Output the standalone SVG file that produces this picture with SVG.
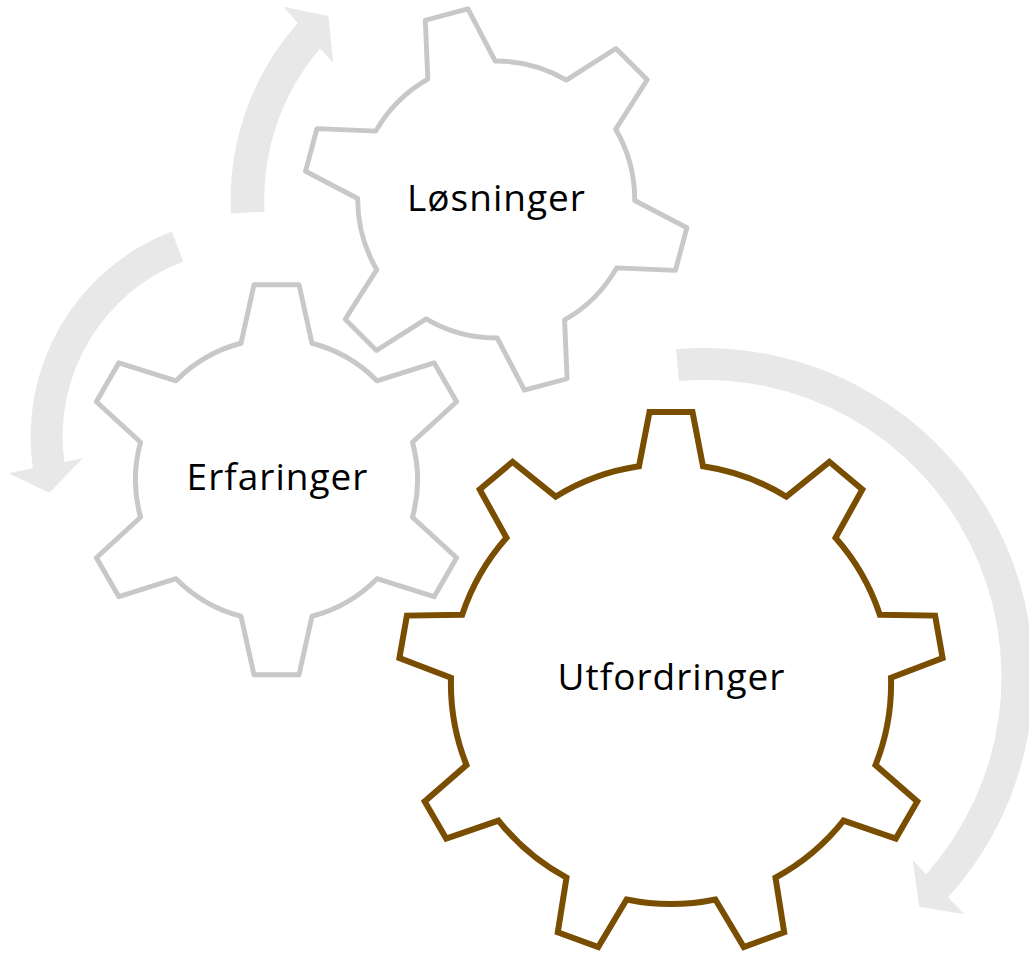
<svg xmlns="http://www.w3.org/2000/svg" xmlns:xlink="http://www.w3.org/1999/xlink" width="1029" height="954" viewBox="0 0 1029 954">
  <style>
    .arrow { fill: #E8E8E8; stroke: none; }
    .gear-small { fill: #FFFFFF; stroke: #C8C8C8; stroke-width: 5; stroke-linejoin: round; }
    .gear-big { fill: #FFFFFF; stroke: #7A4E00; stroke-width: 6; stroke-linejoin: miter; }
    .label { font-family: "Open Sans", "Noto Sans", "DejaVu Sans", sans-serif; font-size: 37px; letter-spacing: 1px; fill: #000000; text-anchor: middle; }
  </style>
  <defs>
    <!-- six-tooth gear outline centred on the origin -->
    <path id="gear6" d="M -35.5,-136.5 L -22.5,-195 L 22.5,-195 L 35.5,-136.5 A 141 141 0 0 1 100.46,-98.99 L 157.62,-116.99 L 180.12,-78.01 L 135.96,-37.51 A 141 141 0 0 1 135.96,37.51 L 180.12,78.01 L 157.62,116.99 L 100.46,98.99 A 141 141 0 0 1 35.5,136.5 L 22.5,195 L -22.5,195 L -35.5,136.5 A 141 141 0 0 1 -100.46,98.99 L -157.62,116.99 L -180.12,78.01 L -135.96,37.51 A 141 141 0 0 1 -135.96,-37.51 L -180.12,-78.01 L -157.62,-116.99 L -100.46,-98.99 A 141 141 0 0 1 -35.5,-136.5 Z"/>
  </defs>

  <!-- circular rotation arrows -->
  <g id="connectors">
    <path class="arrow" d="M 231.06,213.4 A 265.5 265.5 0 0 1 297.78,23.09 L 283.3,6.7 L 328.4,16 L 333.3,63.3 L 320.15,48.41 A 232 232 0 0 0 264.52,211.64 Z"/>
    <path class="arrow" d="M 171.81,231.54 A 219.5 219.5 0 0 0 32.9,468.34 L 8.3,473.3 L 49.3,492.7 L 82.7,458.3 L 64.33,462 A 187.5 187.5 0 0 1 183.22,261.44 Z"/>
    <path class="arrow" d="M 676.17,349.35 A 328.5 328.5 0 0 1 948.13,897.29 L 964.3,914.3 L 919.3,906.7 L 912.7,860 L 926.16,874.16 A 296.7 296.7 0 0 0 678.94,381.03 Z"/>
  </g>

  <g id="gear-losninger">
    <use xlink:href="#gear6" class="gear-small" transform="translate(496.2,199.5) rotate(-15) scale(0.982)" vector-effect="non-scaling-stroke"/>
    <text class="label" x="496.5" y="210.5">Løsninger</text>
  </g>

  <g id="gear-erfaringer">
    <use xlink:href="#gear6" class="gear-small" transform="translate(276.5,479.75)"/>
    <text class="label" x="277.5" y="489.5">Erfaringer</text>
  </g>

  <g id="gear-utfordringer">
    <path class="gear-big" d="M 639,466.3 L 649.5,412 L 692.5,412 L 703,466.3 A 220 220 0 0 1 786.4,496.7 L 829.4,461.8 L 862.3,489.5 L 835.5,537.8 A 220 220 0 0 1 879.8,614.7 L 935.1,615.6 L 942.6,658 L 891,677.7 A 220 220 0 0 1 875.5,765.1 L 917.3,801.4 L 895.8,838.6 L 843.5,820.6 A 220 220 0 0 1 775.5,877.6 L 784.2,932.3 L 743.8,947 L 715.4,899.5 A 220 220 0 0 1 626.6,899.5 L 598.2,947 L 557.8,932.3 L 566.5,877.6 A 220 220 0 0 1 498.5,820.6 L 446.2,838.6 L 424.7,801.4 L 466.5,765.1 A 220 220 0 0 1 451,677.7 L 399.4,658 L 406.9,615.6 L 462.2,614.7 A 220 220 0 0 1 506.5,537.8 L 479.7,489.5 L 512.6,461.8 L 555.6,496.7 A 220 220 0 0 1 639,466.3 Z"/>
    <text class="label" x="671.5" y="689.5">Utfordringer</text>
  </g>
</svg>
